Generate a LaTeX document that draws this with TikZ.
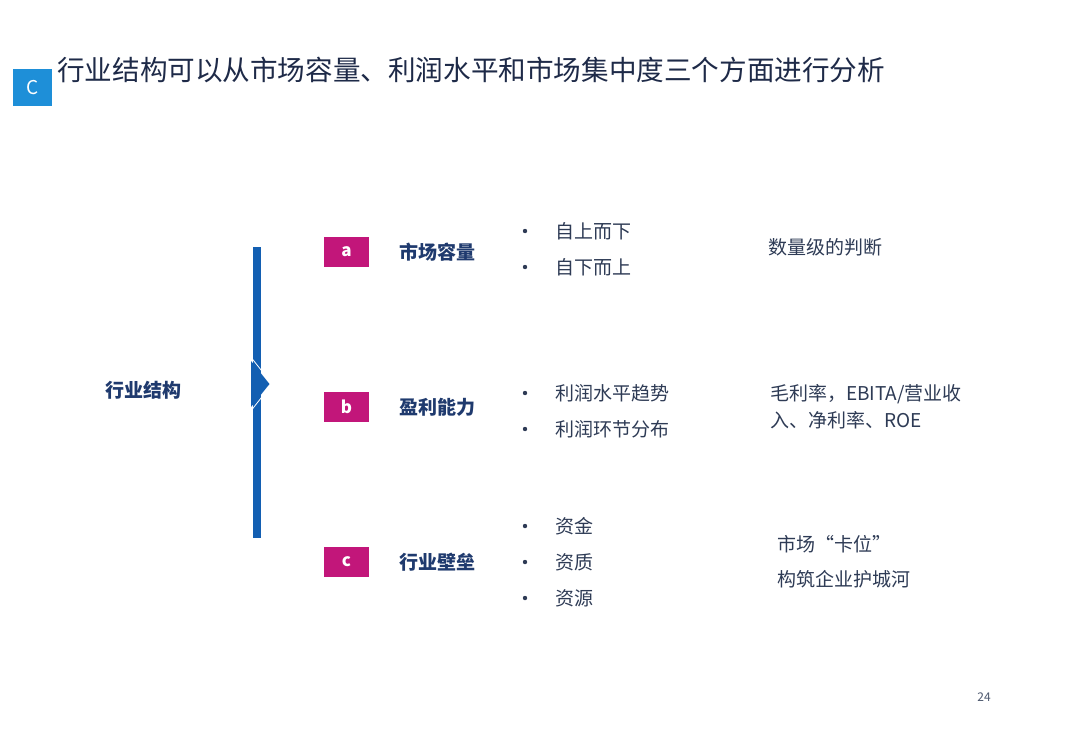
\documentclass[tikz,border=0pt]{standalone}
\usepackage{fontspec}
\setmainfont{Noto Sans CJK SC}
\usepackage{xcolor}
\usetikzlibrary{positioning}

\definecolor{titleink}{HTML}{1E2A48}
\definecolor{headink}{HTML}{1F3A6E}
\definecolor{bodyink}{HTML}{2E3B55}
\definecolor{tagblue}{HTML}{1E8FD8}
\definecolor{barblue}{HTML}{135FB2}
\definecolor{tagpink}{HTML}{C2167A}

\begin{document}
\begin{tikzpicture}[x=1pt, y=-1pt,
tag/.style={fill=tagpink, text=white, font=\fontsize{17}{19}\selectfont\bfseries, minimum width=45pt, minimum height=30pt, inner sep=0pt},
topic/.style={text=headink, font=\fontsize{19}{22}\selectfont\bfseries, inner sep=0pt},
item/.style={text=bodyink, font=\fontsize{19}{22}\selectfont, anchor=west, inner sep=0pt},
note/.style={text=bodyink, font=\fontsize{19}{22}\selectfont, anchor=west, inner sep=0pt},
dot/.style={circle, fill=bodyink, inner sep=0pt, minimum size=4.4pt}
]
\useasboundingbox (0,0) rectangle (1080,748);
\fill[white] (0,0) rectangle (1080,748);

% heading
\node[fill=tagblue, text=white, minimum width=39pt, minimum height=37pt, inner sep=0pt, font=\fontsize{19}{22}\selectfont] (mark) at (32.5,87.5) {C};
\node[text=titleink, font=\fontsize{27.6}{32}\selectfont, anchor=west, inner sep=0pt] (title) at (57,70) {行业结构可以从市场容量、利润水平和市场集中度三个方面进行分析};

% bracket
\node[topic] (root) at (143,390) {行业结构};
\fill[barblue] (253,247) rectangle (261,538);
\fill[barblue] (251,361) -- (269.5,384) -- (251,407) -- cycle;
\draw[white, line width=0.8pt] (252,358.5) -- (270.5,382) (270.5,386) -- (252,409.5);

% three aspects
\node[tag] (taga) at (346.5,252) {a};
\node[tag] (tagb) at (346.5,407) {b};
\node[tag] (tagc) at (346.5,562) {c};
\node[topic, right=30pt of taga] (size) {市场容量};
\node[topic, right=30pt of tagb] (profit) {盈利能力};
\node[topic, right=30pt of tagc] (barrier) {行业壁垒};

% bullets
\node[dot] (d1) at (525,231) {};
\node[item] (i1) at (555,231) {自上而下};
\node[dot] (d2) at (525,267) {};
\node[item] (i2) at (555,267) {自下而上};
\node[dot] (d3) at (525,393) {};
\node[item] (i3) at (555,393) {利润水平趋势};
\node[dot] (d4) at (525,429) {};
\node[item] (i4) at (555,429) {利润环节分布};
\node[dot] (d5) at (525,526) {};
\node[item] (i5) at (555,526) {资金};
\node[dot] (d6) at (525,562) {};
\node[item] (i6) at (555,562) {资质};
\node[dot] (d7) at (525,598) {};
\node[item] (i7) at (555,598) {资源};

% remarks
\node[note] (n1) at (768,247) {数量级的判断};
\node[note] (n2) at (770,394) {毛利率，EBITA/营业收};
\node[note] (n3) at (770,420) {入、净利率、ROE};
\node[note] (n4) at (777,544) {市场“卡位”};
\node[note] (n5) at (777,579) {构筑企业护城河};

\node[text=bodyink!85, font=\fontsize{12}{14}\selectfont, inner sep=0pt] (page) at (984,697) {24};
\end{tikzpicture}
\end{document}
